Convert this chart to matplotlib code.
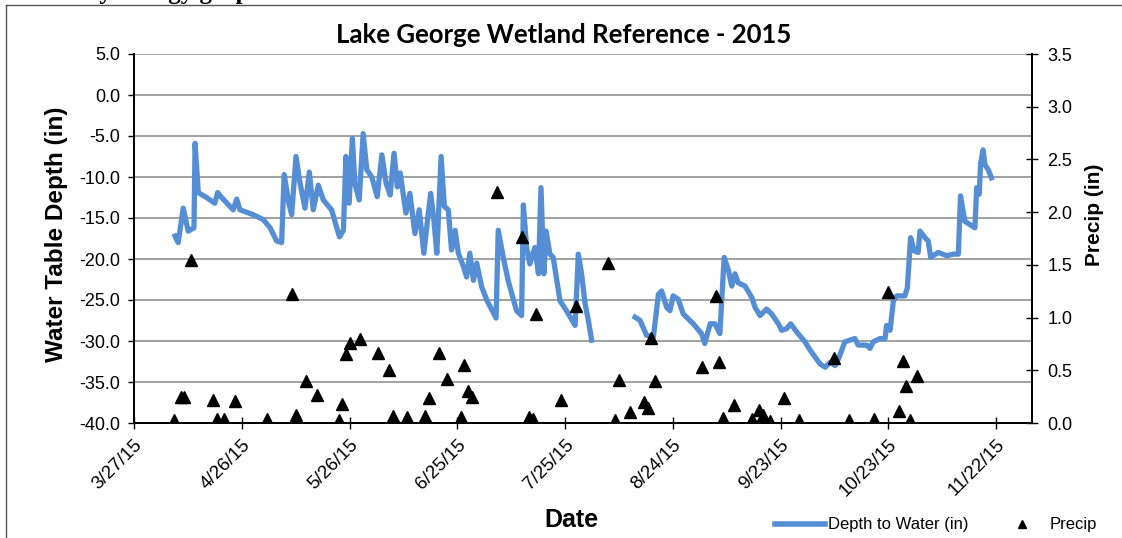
import matplotlib
matplotlib.use('Agg')
import matplotlib.pyplot as plt
from matplotlib.lines import Line2D
from matplotlib.ticker import FormatStrFormatter
import numpy as np
import pandas as pd

# logger record: days after 3/27/15 and depth (in)
# nan marks the gap in the record (early August)
start = pd.Timestamp('2015-03-27')

depth_days = [
    11.4, 12.3, 13.7, 15.1, 16.7, 17.0, 17.9, 20.2, 22.5, 23.3, 24.4, 27.6, 28.6, 29.5,
    33.2, 36.0, 37.9, 39.7, 41.1, 41.8, 43.2, 43.9, 45.1,
    46.2, 47.6, 48.8, 49.9, 51.3, 52.7, 55.0, 57.2, 58.3, 59.0, 59.9, 60.8, 61.5, 62.7,
    63.8, 64.8, 66.2, 67.7, 69.0, 70.2, 71.3, 72.4, 73.3, 74.1, 75.7, 76.8, 78.2, 79.4,
    80.7, 81.7, 82.6, 83.5, 84.3, 85.5, 86.4, 87.5, 88.4, 89.4, 90.3, 91.7, 92.6, 93.5,
    94.5, 95.4, 96.8, 98.2, 99.6, 100.8, 101.4,
    102.8, 104.2, 106.5, 107.9, 108.4, 109.3, 110.2, 111.6, 112.6, 113.3, 114.1, 114.7,
    115.8, 116.7, 118.6, 120.4, 122.8, 123.7, 124.6, 125.6, 126.5, 127.4,
    133.0,
    139.5, 140.9, 142.7, 144.6, 146.0, 146.9, 148.3, 149.2, 150.1, 151.5, 152.9, 155.7,
    158.0, 158.9, 160.4, 161.7, 163.1, 164.3, 165.5, 166.4, 167.3, 168.2, 170.1, 172.0,
    172.9, 174.3, 176.1, 177.5, 179.4, 180.3, 181.7, 182.8, 184.5, 186.8, 188.2, 191.0,
    192.4, 193.8, 195.2, 196.1, 197.9, 199.3, 200.7, 201.6, 204.0, 204.9, 205.8, 207.7,
    209.1, 209.5, 210.5, 211.4, 212.3, 214.6, 215.3, 216.2, 217.2, 218.3, 218.8, 220.2,
    221.1, 221.8, 223.9, 226.3, 228.1, 229.5, 230.1, 231.3, 232.7, 234.1, 234.6, 235.3,
    235.7, 236.4, 236.9, 237.8, 238.7,
]
depth_in = [
    -17.2, -18.0, -13.8, -16.6, -16.2, -5.9, -11.9, -12.5, -13.2, -11.9, -12.5, -14.0, -12.7, -14.0,
    -14.6, -15.2, -16.2, -17.8, -18.0, -9.7, -13.4, -14.6, -7.5,
    -10.7, -13.8, -9.4, -14.0, -11.0, -12.8, -14.0, -17.3, -16.5, -7.5, -13.2, -5.3, -10.8, -12.8,
    -4.7, -9.1, -10.0, -12.4, -7.3, -10.8, -12.2, -7.1, -11.2, -9.5, -14.4, -12.0, -16.9, -14.0,
    -19.3, -15.3, -12.0, -15.3, -19.3, -7.5, -13.6, -14.0, -18.9, -16.5, -19.3, -20.9, -22.2, -19.3,
    -22.6, -20.5, -23.4, -25.0, -26.2, -27.2, -16.5,
    -19.8, -22.7, -26.3, -26.9, -13.4, -18.6, -20.6, -18.6, -21.8, -11.3, -21.8, -16.6,
    -19.4, -19.8, -25.1, -26.3, -28.1, -19.4, -21.8, -25.5, -27.5, -29.9,
    np.nan,
    -27.1, -27.5, -29.3, -29.5, -24.3, -23.9, -25.9, -26.3, -24.5, -24.9, -26.7, -27.9,
    -29.1, -30.3, -27.9, -27.9, -29.1, -19.8, -21.4, -23.3, -21.8, -22.9, -23.3, -24.7,
    -25.9, -26.9, -26.1, -26.7, -27.9, -28.7, -28.5, -27.9, -28.9, -30.1, -31.1, -32.8,
    -33.2, -32.6, -33.0, -32.2, -30.1, -29.9, -29.7, -30.5, -30.5, -30.9, -30.1, -29.7,
    -29.7, -28.1, -28.7, -25.1, -24.5, -24.5, -23.5, -17.4, -19.0, -19.2, -16.6, -17.4,
    -17.8, -19.8, -19.2, -19.6, -19.4, -19.4, -12.3, -15.4, -15.8, -16.2, -11.3, -12.1,
    -8.3, -6.7, -8.5, -9.1, -10.1,
]

precip_dates = [
    '2015-04-07', '2015-04-09', '2015-04-10', '2015-04-12', '2015-04-18', '2015-04-19',
    '2015-04-21', '2015-04-24', '2015-05-03', '2015-05-10', '2015-05-11', '2015-05-14',
    '2015-05-17', '2015-05-23', '2015-05-24', '2015-05-25', '2015-05-26', '2015-05-29',
    '2015-06-03', '2015-06-06', '2015-06-07', '2015-06-11', '2015-06-16', '2015-06-17',
    '2015-06-20', '2015-06-22', '2015-06-26', '2015-06-27', '2015-06-28', '2015-06-29',
    '2015-07-06', '2015-07-13', '2015-07-15', '2015-07-16', '2015-07-17', '2015-07-24',
    '2015-07-28', '2015-08-06', '2015-08-08', '2015-08-09', '2015-08-12', '2015-08-16',
    '2015-08-17', '2015-08-18', '2015-08-19', '2015-09-01', '2015-09-05', '2015-09-06',
    '2015-09-07', '2015-09-10', '2015-09-15', '2015-09-17', '2015-09-18', '2015-09-20',
    '2015-09-24', '2015-09-28', '2015-10-08', '2015-10-12', '2015-10-19', '2015-10-23',
    '2015-10-26', '2015-10-27', '2015-10-28', '2015-10-29', '2015-10-31',
]
precip_in = [
    0.03, 0.25, 0.25, 1.55, 0.22, 0.04,
    0.04, 0.21, 0.04, 1.22, 0.08, 0.40,
    0.27, 0.03, 0.18, 0.65, 0.76, 0.80,
    0.66, 0.50, 0.07, 0.06, 0.07, 0.24,
    0.66, 0.42, 0.06, 0.55, 0.30, 0.25,
    2.19, 1.76, 0.06, 0.04, 1.03, 0.22,
    1.11, 1.52, 0.03, 0.41, 0.10, 0.20,
    0.14, 0.81, 0.40, 0.53, 1.20, 0.58,
    0.05, 0.17, 0.04, 0.12, 0.08, 0.02,
    0.24, 0.03, 0.62, 0.03, 0.04, 1.24,
    0.11, 0.59, 0.35, 0.03, 0.45,
]

tick_dates = pd.date_range('2015-03-27', '2015-11-22', freq='30D')

depth_t = start + pd.to_timedelta(depth_days, unit='D')
precip_t = pd.to_datetime(precip_dates)

plt.rcParams['font.family'] = ['Liberation Sans', 'DejaVu Sans']
W, H = 1122, 538
fig = plt.figure(figsize=(W / 100, H / 100), dpi=100)
ax = fig.add_axes([134 / W, 1 - 423 / H, (1032 - 134) / W, (423 - 54) / H])
ax2 = ax.twinx()

blue = '#558ed5'
ax.plot(depth_t, depth_in, color=blue, lw=3.8, solid_joinstyle='round', zorder=3)
ax2.plot(precip_t, precip_in, ls='none', marker='^', ms=8, color='black', zorder=4)

ax.set_xlim(start, start + pd.Timedelta(days=250))
ax.set_ylim(-40, 5)
ax.set_yticks(np.arange(-40, 5.1, 5))
ax.yaxis.set_major_formatter(FormatStrFormatter('%.1f'))
ax2.set_ylim(0, 3.5)
ax2.set_yticks(np.arange(0, 3.51, 0.5))
ax2.yaxis.set_major_formatter(FormatStrFormatter('%.1f'))

ax.set_xticks(tick_dates)
ax.set_xticklabels([f'{d.month}/{d.day}/{d:%y}' for d in tick_dates],
                   rotation=45, ha='right', va='top', rotation_mode='anchor')

ax.grid(axis='y', color='#878787', lw=1.1)
ax.set_axisbelow(True)
for a in (ax, ax2):
    a.spines['top'].set_visible(False)
    for s in ('left', 'right', 'bottom'):
        a.spines[s].set_linewidth(1.3)
ax.tick_params(axis='y', direction='out', length=4, width=1, labelsize=13, pad=6)
ax.tick_params(axis='x', direction='inout', length=9, width=1, labelsize=13.5, pad=5)
ax2.tick_params(axis='y', direction='inout', length=8, width=1, labelsize=13, pad=7)

fig.text(0.502, 1 - 35 / H, 'Lake George Wetland Reference - 2015', ha='center', va='center',
         fontsize=18.5, fontweight='bold', family=['Lato', 'DejaVu Sans'])
fig.text(57 / W, 1 - 234 / H, 'Water Table Depth (in)', rotation=90, ha='center', va='center',
         fontsize=17.5, fontweight='bold')
fig.text(1094 / W, 1 - 215 / H, 'Precip (in)', rotation=90, ha='center', va='center',
         fontsize=15, fontweight='bold')
fig.text(571 / W, 1 - 520 / H, 'Date', ha='center', va='center', fontsize=18, fontweight='bold')

# cut-off heading of the page above the chart
fig.text(80 / W, 1 + 8 / H, 'Hydrology graph', ha='left', va='center', fontsize=18,
         fontweight='bold', family=['Liberation Serif'])

# chart frame
fig.add_artist(Line2D([6 / W, 6 / W], [0, 1 - 5 / H], color='#555555', lw=1))
fig.add_artist(Line2D([6 / W, 1], [1 - 5 / H, 1 - 5 / H], color='#555555', lw=1))

handles = [Line2D([], [], color=blue, lw=4),
           Line2D([], [], ls='none', marker='^', ms=6, color='black')]
fig.legend(handles, ['Depth to Water (in)', 'Precip'], loc='center',
           bbox_to_anchor=(936 / W, 1 - 525 / H), ncol=2, frameon=False,
           fontsize=12, handlelength=3, handletextpad=0.2, columnspacing=1.7)

fig.savefig('out.png', dpi=100)
